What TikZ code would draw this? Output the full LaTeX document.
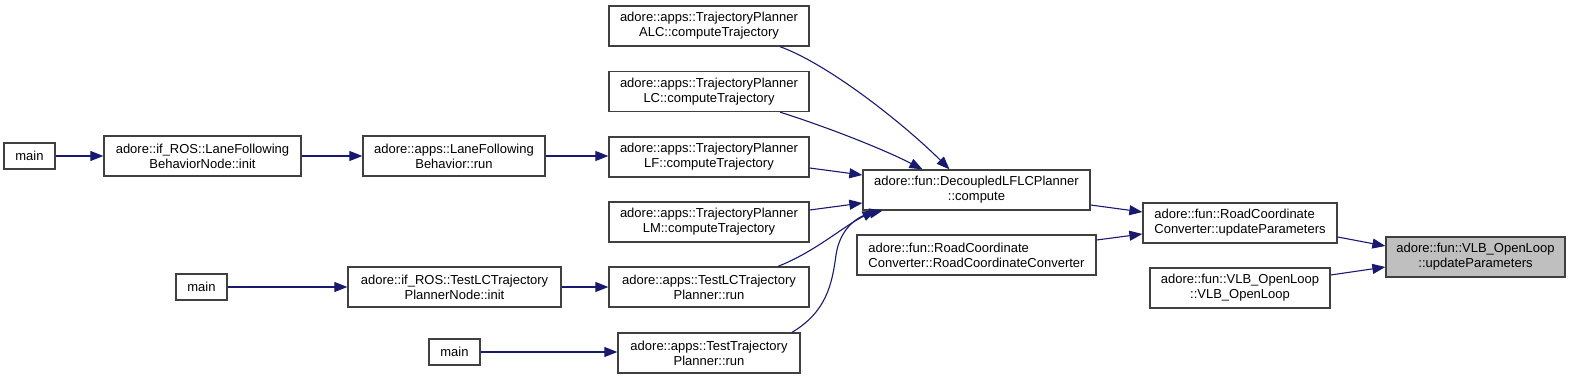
\documentclass[tikz,border=0pt]{standalone}
\usepackage{fontspec}
\setmainfont{Liberation Sans}
\usetikzlibrary{arrows.meta}
\definecolor{edgec}{HTML}{191970}
\definecolor{borderc}{HTML}{404040}
\definecolor{grayfill}{HTML}{BFBFBF}
\tikzset{
  box/.style={draw=borderc, line width=1.3pt, fill=white, inner sep=0pt,
    minimum height=40pt, align=center, font=\fontsize{13}{15}\selectfont},
  smallbox/.style={box, minimum height=26pt, minimum width=51pt},
  edge/.style={draw=edgec, line width=1.1pt, -{Triangle[length=13pt,width=10pt]}}
}
\begin{document}
\begin{tikzpicture}[x=1pt,y=-1pt]
\useasboundingbox (0,0) rectangle (1569,379);
% left column
\node[smallbox] (mainA) at (29.5,156) {main};
\node[box, minimum width=197pt] (lfbn) at (202.5,156) {adore::if\_ROS::LaneFollowing\\BehaviorNode::init};
\node[box, minimum width=182pt] (lfbr) at (454,156) {adore::apps::LaneFollowing\\Behavior::run};
\node[smallbox] (mainB) at (201.5,287) {main};
\node[box, minimum width=213pt] (tlcpn) at (454.5,287) {adore::if\_ROS::TestLCTrajectory\\PlannerNode::init};
\node[smallbox] (mainC) at (454.5,352) {main};
% planners column
\node[box, minimum width=200pt] (alc) at (709,26) {adore::apps::TrajectoryPlanner\\ALC::computeTrajectory};
\node[box, minimum width=200pt] (lc) at (709,91.5) {adore::apps::TrajectoryPlanner\\LC::computeTrajectory};
\node[box, minimum width=200pt] (lf) at (709,157) {adore::apps::TrajectoryPlanner\\LF::computeTrajectory};
\node[box, minimum width=200pt] (lm) at (709,222) {adore::apps::TrajectoryPlanner\\LM::computeTrajectory};
\node[box, minimum width=200pt] (tlcr) at (709,287) {adore::apps::TestLCTrajectory\\Planner::run};
\node[box, minimum width=182pt] (ttr) at (709,353) {adore::apps::TestTrajectory\\Planner::run};
% fun column
\node[box, minimum width=227pt] (dec) at (976.5,190) {adore::fun::DecoupledLFLCPlanner\\::compute};
\node[box, minimum width=239pt, align=left] (rcc) at (976.5,255) {adore::fun::RoadCoordinate\\Converter::RoadCoordinateConverter};
\node[box, minimum width=194pt, align=left] (rcu) at (1240,223) {adore::fun::RoadCoordinate\\Converter::updateParameters};
\node[box, minimum width=180pt] (vlbc) at (1240,288) {adore::fun::VLB\_OpenLoop\\::VLB\_OpenLoop};
\node[box, minimum width=179pt, fill=grayfill] (vlbu) at (1475.5,257) {adore::fun::VLB\_OpenLoop\\::updateParameters};
% edges
\draw[edge] (mainA) -- (lfbn);
\draw[edge] (lfbn) -- (lfbr);
\draw[edge] (lfbr.east) -- (lf.west |- lfbr.east);
\draw[edge] (mainB) -- (tlcpn);
\draw[edge] (tlcpn) -- (tlcr);
\draw[edge] (mainC.east) -- (ttr.west |- mainC.east);
\draw[edge] ([xshift=71pt]alc.south) .. controls (830,65) and (905,125) .. ([xshift=-27pt]dec.north);
\draw[edge] ([xshift=71pt]lc.south) .. controls (830,128) and (885,150) .. ([xshift=-54pt]dec.north);
\draw[edge] ([yshift=-11pt]lf.east) -- ([yshift=15pt]dec.west);
\draw[edge] ([yshift=12pt]lm.east) -- ([yshift=-13pt]dec.west);
\draw[edge] ([xshift=69pt]tlcr.north) .. controls (815,252) and (845,225) .. ([xshift=-101pt]dec.south);
\draw[edge] ([xshift=83pt]ttr.north) .. controls (826,312) and (832,285) .. (836,255)
  .. controls (840,228) and (858,216) .. ([xshift=-94pt]dec.south);
\draw[edge] ([yshift=-15pt]dec.east) -- ([yshift=11pt]rcu.west);
\draw[edge] ([yshift=15pt]rcc.east) -- ([yshift=-11pt]rcu.west);
\draw[edge] ([yshift=-14pt]rcu.east) -- ([yshift=11pt]vlbu.west);
\draw[edge] ([yshift=13pt]vlbc.east) -- ([yshift=-10pt]vlbu.west);
\end{tikzpicture}
\end{document}
